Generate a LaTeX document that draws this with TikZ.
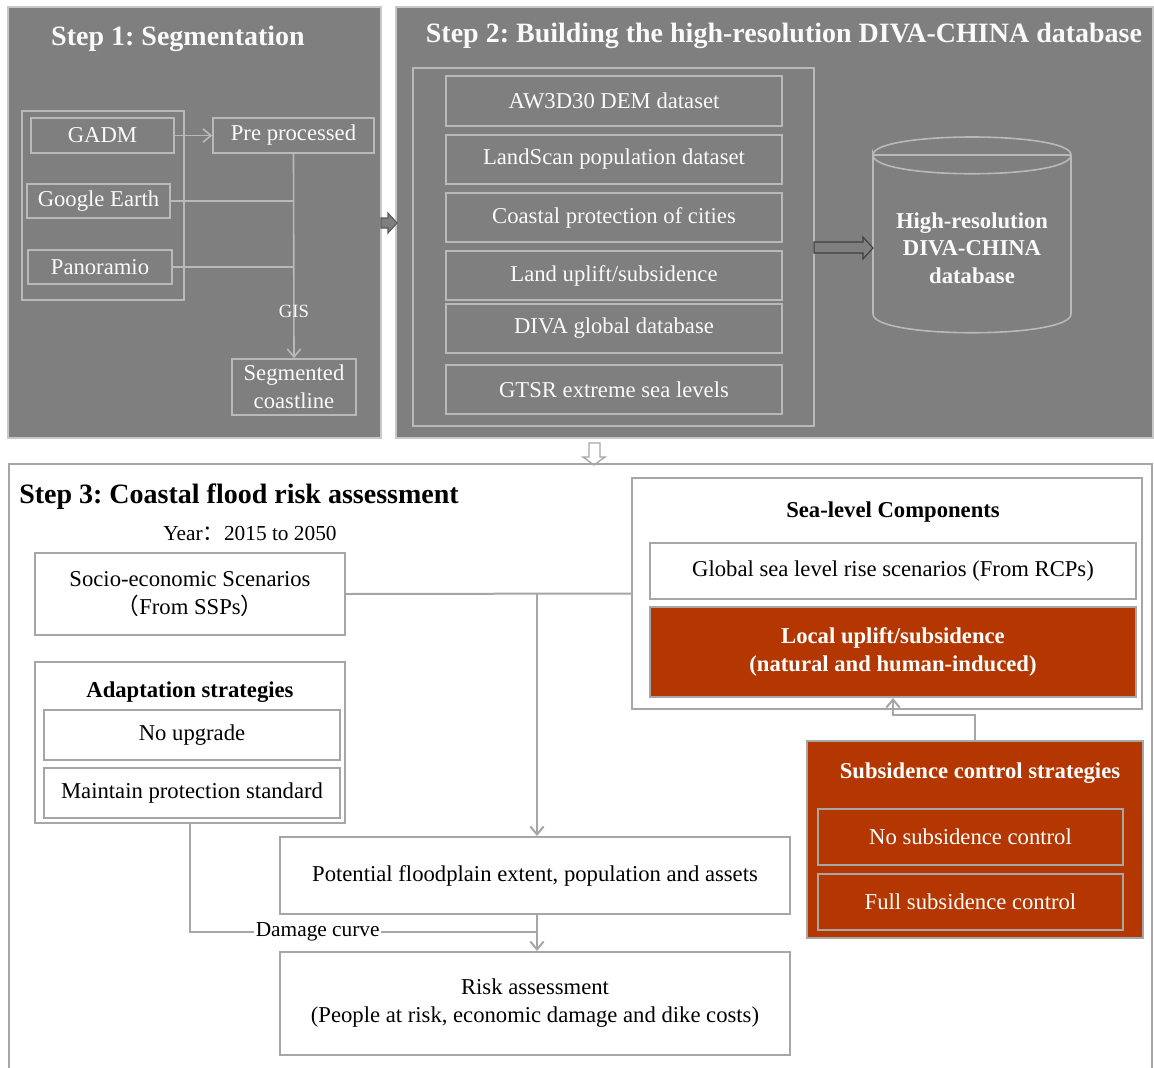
\documentclass[tikz,border=0pt]{standalone}
\usepackage{fontspec}
\setmainfont{Liberation Serif}
\newfontfamily\cjk{Noto Sans CJK SC}
\frenchspacing
\usetikzlibrary{arrows.meta,calc}
\definecolor{pgray}{RGB}{127,127,127}
\definecolor{pedge}{RGB}{200,200,200}
\definecolor{dlinec}{RGB}{185,185,185}
\definecolor{llinec}{RGB}{166,166,166}
\definecolor{rust}{RGB}{180,54,0}
\definecolor{wtxt}{RGB}{250,250,250}
\begin{document}
\begin{tikzpicture}[x=0.75pt,y=-0.75pt,
  every node/.style={inner sep=0pt},
  spanbox/.style n args={4}{at={({(#1+#3)/2},{(#2+#4)/2})},
      minimum width={(#3-#1)*0.75pt}, minimum height={(#4-#2)*0.75pt}},
  bodyfont/.style={font=\fontsize{17}{21}\selectfont},
  boldfont/.style={font=\bfseries\fontsize{17}{21}\selectfont},
  titlefont/.style={font=\bfseries\fontsize{21}{25}\selectfont},
  panel/.style={fill=pgray, draw=pedge, line width=1.5pt},
  dbox/.style={draw=dlinec, line width=1.2pt, text=wtxt, bodyfont, align=center},
  dgroup/.style={draw=dlinec, line width=1.2pt},
  dconn/.style={draw=dlinec, line width=1.2pt},
  dtip/.style={dconn, -{Straight Barb[length=6pt,width=10pt]}},
  lbox/.style={draw=llinec, line width=1.5pt, fill=white, bodyfont, align=center},
  rbox/.style={draw=llinec, line width=1.5pt, fill=rust, text=white, bodyfont, align=center},
  lconn/.style={draw=llinec, line width=1.5pt},
  ltip/.style={lconn, -{Straight Barb[length=6pt,width=10pt]}},
]
\useasboundingbox (0,0) rectangle (1154,1068);
\fill[white] (0,0) rectangle (1154,1068);

% ---------- Panel 1 ----------
\node[panel, spanbox={8}{7}{381}{438}] (p1) {};
\node[titlefont, text=wtxt, anchor=base] (t1) at (178,45) {Step 1: Segmentation};
\node[dgroup, spanbox={22}{111}{184}{300}] (g1) {};
\node[dbox, spanbox={31}{118}{174}{153}] (gadm) {GADM};
\node[dbox, spanbox={213}{118}{374}{153}] (pre) {Pre processed};
\node[dbox, spanbox={27}{184}{170}{218}] (ge) {Google Earth};
\node[dbox, spanbox={28}{250}{172}{284}] (pano) {Panoramio};
\node[dbox, spanbox={232}{359}{356}{415}] (seg) {Segmented\\coastline};
\draw[dtip] (gadm) -- (pre);
\draw[dconn] (ge.east) -- (ge.east -| pre.south);
\draw[dconn] (pano.east) -- (pano.east -| pre.south);
\draw[dtip] (pre.south) -- node[pos=0.77, text=wtxt, font=\fontsize{14}{16}\selectfont] (gis) {GIS} (seg.north);

% ---------- Panel 2 ----------
\node[panel, spanbox={396}{7}{1153}{438}] (p2) {};
\node[titlefont, text=wtxt, anchor=base] (t2) at (784,42) {Step 2: Building the high-resolution DIVA-CHINA database};
\node[dgroup, spanbox={413}{68}{814}{426}] (g2) {};
\node[dbox, spanbox={446}{76}{782}{126}] (aw) {AW3D30 DEM dataset};
\node[dbox, spanbox={446}{135}{782}{184}] (ls) {LandScan population dataset};
\node[dbox, spanbox={446}{193}{782}{242}] (cp) {Coastal protection of cities};
\node[dbox, spanbox={446}{251}{782}{300}] (lu) {Land uplift/subsidence};
\node[dbox, spanbox={446}{304}{782}{353}] (dg) {DIVA global database};
\node[dbox, spanbox={446}{365}{782}{414}] (gt) {GTSR extreme sea levels};
\node[spanbox={873}{137}{1071}{333}] (db) {};
\draw[dconn] (873,155) .. controls (873,131) and (1071,131) .. (1071,155)
  .. controls (1071,180) and (873,180) .. (873,155) -- (873,314)
  .. controls (873,339) and (1071,339) .. (1071,314) -- (1071,155);
\draw[dconn] (873,155) -- (1071,155);
\node[text=wtxt, align=center, font=\bfseries\fontsize{17}{20.6}\selectfont] (dbt) at (972,248) {High-resolution\\DIVA-CHINA\\database};
\draw[fill=pgray, draw=black!75, line width=0.8pt] (814,242)--(863,242)--(863,237)--(873,248)--(863,259)--(863,253)--(814,253)--cycle;

% arrow panel1 -> panel2
\draw[fill=pgray, draw=black!65, line width=0.8pt] (381,218)--(388,218)--(388,213)--(397,223)--(388,233)--(388,228)--(381,228)--cycle;

% down arrow
\draw[fill=white, draw=llinec, line width=1pt] (589,443)--(600,443)--(600,457)--(605,457)--(594,465)--(583,457)--(589,457)--cycle;

% ---------- Panel 3 ----------
\node[spanbox={9}{464}{1152}{1068}] (p3) {};
\draw[lconn] (p3.south west) -- (p3.north west) -- (p3.north east) -- (p3.south east);
\node[titlefont, anchor=base west] (t3) at (19,503) {Step 3: Coastal flood risk assessment};
\node[font=\fontsize{16}{19}\selectfont, anchor=base] (yr) at (250,540) {Year{\cjk ：}2015 to 2050};

\node[lbox, spanbox={35}{553}{345}{635}] (socio) {Socio-economic Scenarios\\{\cjk （}From SSPs{\cjk ）}};
\node[lbox, spanbox={35}{662}{345}{823}] (adapt) {};
\node[boldfont, anchor=base] (adt) at (190,697) {Adaptation strategies};
\node[lbox, spanbox={44}{710}{340}{760}] (noup) {No upgrade};
\node[lbox, spanbox={44}{768}{340}{818}] (maint) {Maintain protection standard};

\node[lbox, spanbox={632}{478}{1142}{709}] (sea) {};
\node[boldfont, anchor=base] (seat) at (893,517) {Sea-level Components};
\node[lbox, spanbox={650}{543}{1136}{599}] (gsl) {Global sea level rise scenarios (From RCPs)};
\node[rbox, boldfont, spanbox={650}{607}{1136}{697}] (local) {Local uplift/subsidence\\(natural and human-induced)};

\node[rbox, spanbox={807}{741}{1143}{938}] (subs) {};
\node[boldfont, text=white, anchor=base] (subt) at (980,778) {Subsidence control strategies};
\node[rbox, spanbox={818}{809}{1123}{865}] (nosub) {No subsidence control};
\node[rbox, spanbox={818}{874}{1123}{930}] (fullsub) {Full subsidence control};

\node[lbox, spanbox={280}{837}{790}{914}] (pot) {Potential floodplain extent, population and assets};
\node[lbox, spanbox={280}{952}{790}{1055}] (risk) {Risk assessment\\(People at risk, economic damage and dike costs)};

\coordinate (j1) at (537,594);
\coordinate (j3) at (537,932);
\draw[lconn] (socio.east) -- (sea.west);
\draw[ltip] (j1) -- (j1 |- pot.north);
\draw[ltip] (pot.south -| j1) -- (risk.north -| j1);
\draw[lconn] (adapt.south) |- node[pos=0.684, fill=white, inner sep=1pt, font=\fontsize{16}{19}\selectfont] (dmg) {Damage curve} (j3);
\draw[ltip] (subs.north) -- ++(0,-25) -| (local.south);
\end{tikzpicture}
\end{document}
